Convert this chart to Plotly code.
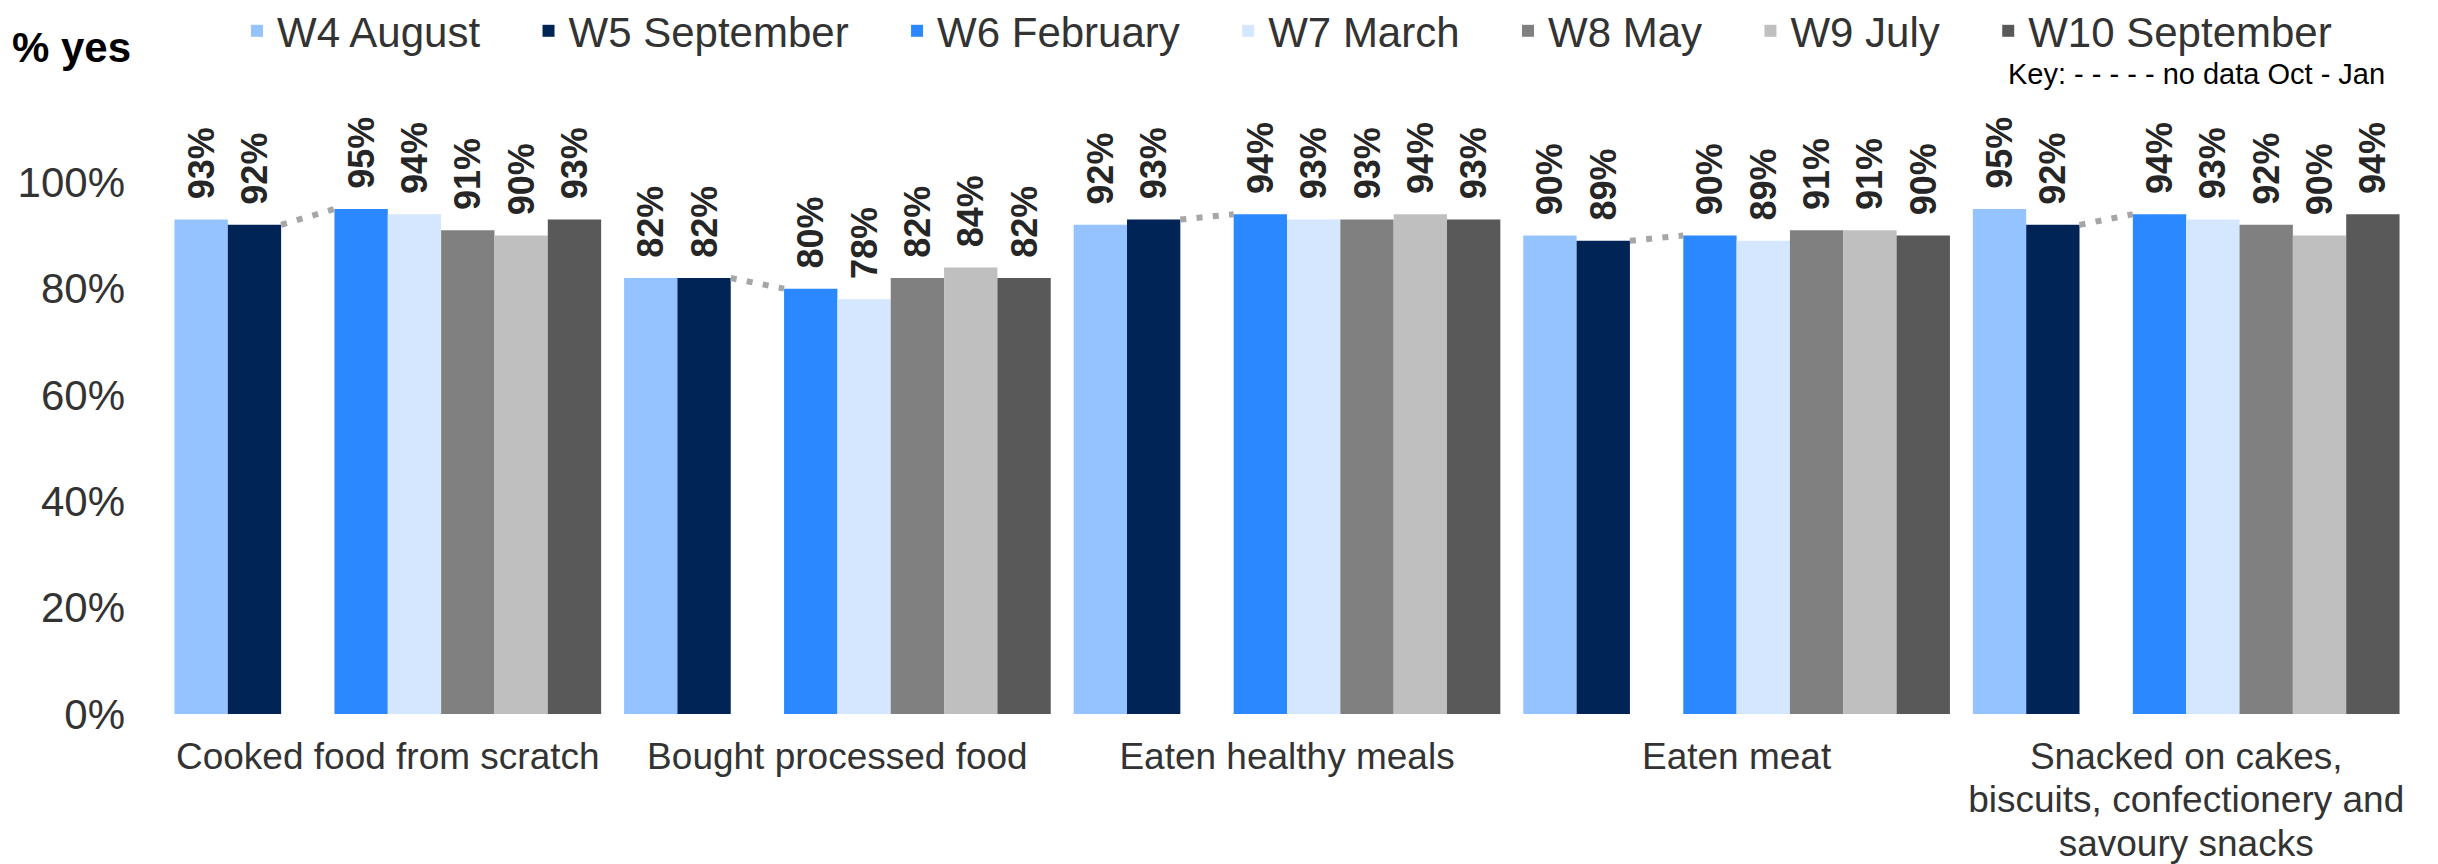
import plotly.graph_objects as go

# categorias (eje x)
categorias = ["Cooked food from scratch", "Bought processed food", "Eaten healthy meals",
              "Eaten meat", "Snacked on cakes,<br>biscuits, confectionery and<br>savoury snacks"]

# % yes por ola
w4_agosto = [93, 82, 92, 90, 95]
w5_septiembre = [92, 82, 93, 89, 92]
w6_febrero = [95, 80, 94, 90, 94]
w7_marzo = [94, 78, 93, 89, 93]
w8_mayo = [91, 82, 93, 91, 92]
w9_julio = [90, 84, 94, 91, 90]
w10_septiembre = [93, 82, 93, 90, 94]

series = [
    ("W4 August", w4_agosto, "#95C3FF"),
    ("W5 September", w5_septiembre, "#002456"),
    (None, None, None),  # hueco: no hay datos Oct - Jan
    ("W6 February", w6_febrero, "#2B88FF"),
    ("W7 March", w7_marzo, "#D5E6FF"),
    ("W8 May", w8_mayo, "#808080"),
    ("W9 July", w9_julio, "#BFBFBF"),
    ("W10 September", w10_septiembre, "#595959"),
]

fuente = "Arial, Liberation Sans, sans-serif"
x = list(range(len(categorias)))
bargap = 0.051
slot = (1 - bargap) / len(series)  # ancho de cada barra en unidades del eje
esp = "\u00a0"

# la pagina deja 8px de margen, la figura se hace 8px mas chica
W, H = 2430, 856

fig = go.Figure()

for nombre, valores, color in series:
    if nombre is None:
        # barra vacia para dejar el hueco entre W5 y W6
        fig.add_trace(go.Bar(x=x, y=[None] * len(x), showlegend=False, hoverinfo="skip"))
        continue
    # espacios al final del nombre para separar las entradas de la leyenda
    etiqueta = nombre if nombre == "W10 September" else nombre + esp * 3 + "\u2009"
    fig.add_trace(go.Bar(
        x=x, y=valores, name=etiqueta,
        marker=dict(color=color, line=dict(width=0)),
        text=[f"{esp}\u2009{v}%" for v in valores],  # espacio para separar la etiqueta de la barra
        textposition="outside", textangle=-90, constraintext="none",
        textfont=dict(family=fuente, size=36, color="#262626", weight="bold"),
        cliponaxis=False,
    ))

# lineas punteadas sobre el hueco (W5 -> W6)
borde_w5 = -(1 - bargap) / 2 + 2 * slot
borde_w6 = -(1 - bargap) / 2 + 3 * slot
for i in x:
    fig.add_trace(go.Scatter(
        x=[i + borde_w5, i + borde_w6], y=[w5_septiembre[i], w6_febrero[i]],
        mode="lines", line=dict(color="#A6A6A6", width=6, dash="6px,10.3px"),
        showlegend=False, hoverinfo="skip", cliponaxis=False,
    ))

# etiquetas del eje x: fuente base chica para que el interlineado sea mas apretado
ticks_x = [f'<span style="font-size:37px">{c.replace("<br>", "</span><br><span style=\"font-size:37px\">")}</span>'
           for c in categorias]

fig.update_layout(
    width=W, height=H,
    barmode="group", bargap=bargap, bargroupgap=0,
    plot_bgcolor="white", paper_bgcolor="white",
    margin=dict(l=155, r=27, t=68, b=150),
    font=dict(family=fuente, color="#333333"),
    title=dict(text="<b>% yes</b>", x=4 / W, xanchor="left", xref="container",
               y=1 - 39 / H, yanchor="middle", font=dict(size=42, color="black")),
    legend=dict(orientation="h", x=0.5, xanchor="center", y=1 - 23 / H, yref="container",
                yanchor="middle", font=dict(size=42, color="#333333"),
                traceorder="normal"),
    xaxis=dict(range=[-0.5, len(categorias) - 0.5], tickvals=x, ticktext=ticks_x,
               showgrid=False, zeroline=False, showline=False, ticks="", automargin=False,
               tickfont=dict(size=33.5, color="#333333"), ticklabelstandoff=20),
    yaxis=dict(range=[0, 120], tickvals=[0, 20, 40, 60, 80, 100],
               ticktext=["0%", "20%", "40%", "60%", "80%", "100%"],
               showgrid=False, zeroline=False, showline=False, ticks="", automargin=False,
               tickfont=dict(size=42, color="#333333"), ticklabelstandoff=37),
)

fig.add_annotation(
    text="Key: - - - - - no data Oct - Jan", xref="paper", yref="paper",
    x=(2379 - 155) / 2248, xanchor="right", y=(706 - 66) / 638, yanchor="middle",
    showarrow=False, font=dict(size=29, color="black"),
)

fig.write_html("out.html")
